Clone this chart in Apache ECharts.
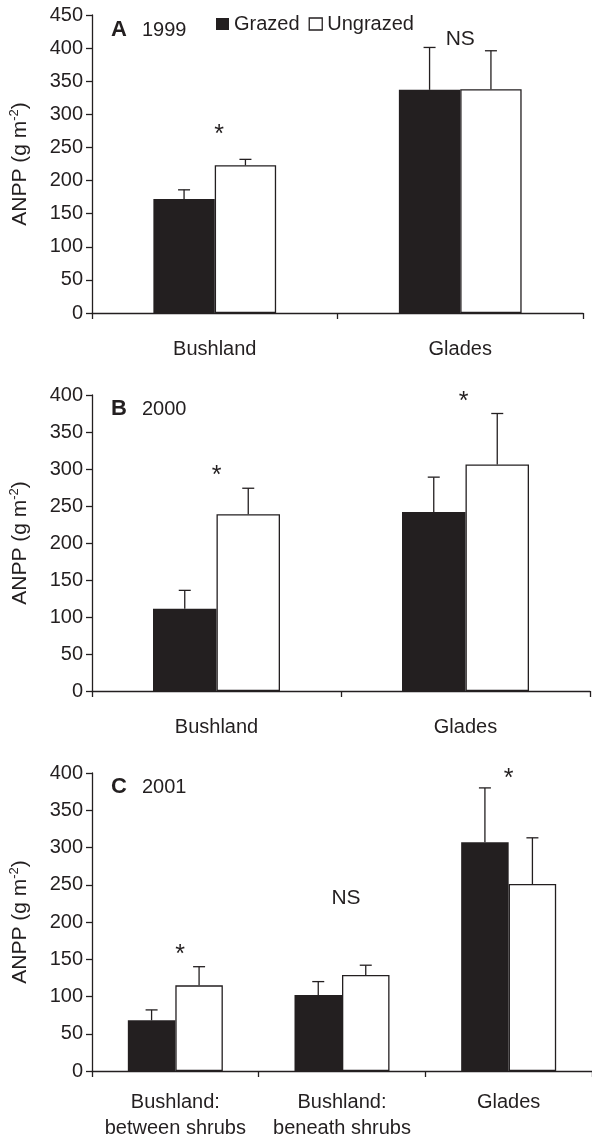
<!DOCTYPE html>
<html>
<head>
<meta charset="utf-8">
<script src="https://cdn.jsdelivr.net/npm/echarts@6/dist/echarts.min.js"></script>
<style>
html,body{margin:0;padding:0;background:#fff;}
#chart{width:592px;height:1142px;}
</style>
</head>
<body>
<div id="chart"></div>
<script>
// ---------- DATA ----------
const seriesNames = ['Grazed', 'Ungrazed'];

const catsA = ['Bushland', 'Glades'];
const grazedA = [172, 337];
const grazedSeA = [14, 64];
const ungrazedA = [223, 338];
const ungrazedSeA = [9, 58];
const notesA = ['*', 'NS'];
const notesCatA = [0, 1];
const notesValA = [269, 413];

const catsB = ['Bushland', 'Glades'];
const grazedB = [111, 242];
const grazedSeB = [25, 47];
const ungrazedB = [239, 306];
const ungrazedSeB = [35, 69];
const notesB = ['*', '*'];
const notesCatB = [0, 1];
const notesValB = [290, 390];

const catsC = ['Bushland:\nbetween shrubs', 'Bushland:\nbeneath shrubs', 'Glades'];
const grazedC = [68, 102, 307];
const grazedSeC = [14, 18, 73];
const ungrazedC = [115, 129, 251];
const ungrazedSeC = [25, 13, 62];
const notesC = ['*', 'NS', '*'];
const notesCatC = [0, 1, 2];
const notesValC = [156, 232, 392];

const yMaxA = 450, yMaxB = 400, yMaxC = 400, yStep = 50;
const panelLabels = ['A', 'B', 'C'];
const panelYears = ['1999', '2000', '2001'];

// ---------- STYLE ----------
const INK = '#231f20';
const FONT = '"Liberation Sans", Arial, Helvetica, sans-serif';

const chart = echarts.init(document.getElementById('chart'), null, {renderer: 'canvas'});

const grids = [
  {left: 90, top: 15, width: 493, height: 298},
  {left: 90, top: 395, width: 500, height: 296},
  {left: 91, top: 773, width: 504, height: 298}
];
const gaps = [0.50, 0.49, 0.43];
const labelMargins = [23, 23, 18];
const noteShift = [[0.018, 0.0], [0, -0.008], [0.028, 0.024, 0]];
const noteSize = {'*': 25, 'NS': 21};

function xAxis(i, cats) {
  return {
    type: 'category', gridIndex: i, data: cats,
    axisLine: {lineStyle: {color: INK, width: 1.3}},
    axisTick: {show: true, length: 6, lineStyle: {color: INK, width: 1.3}},
    axisLabel: {color: INK, fontFamily: FONT, fontSize: 20, lineHeight: 26, margin: labelMargins[i], interval: 0},
    splitLine: {show: false}
  };
}
function yAxis(i, max) {
  return {
    type: 'value', gridIndex: i, min: 0, max: max, interval: yStep,
    name: '{a|ANPP (g m}{s|-2}{a|)}',
    nameLocation: 'middle', nameRotate: 90, nameGap: 60,
    nameTextStyle: {
      color: INK,
      rich: {
        a: {fontFamily: FONT, fontSize: 21, color: INK, lineHeight: 24},
        s: {fontFamily: FONT, fontSize: 13, color: INK, lineHeight: 24, verticalAlign: 'top', padding: [0, 0, 8, 0]}
      }
    },
    axisLine: {show: true, lineStyle: {color: INK, width: 1.3}},
    axisTick: {show: true, length: 6, lineStyle: {color: INK, width: 1.3}},
    axisLabel: {color: INK, fontFamily: FONT, fontSize: 20, margin: 9},
    splitLine: {show: false}
  };
}

function barSeries(i, name, vals) {
  const grazed = name === 'Grazed';
  return {
    type: 'bar', name: name, xAxisIndex: i, yAxisIndex: i, data: vals,
    barGap: '0%', barCategoryGap: (gaps[i] * 100) + '%',
    itemStyle: grazed ? {color: INK} : {color: '#ffffff', borderColor: INK, borderWidth: 1.3},
    emphasis: {disabled: true},
    z: 2
  };
}

function errSeries(i, vals, ses, side) {
  const data = vals.map((v, k) => [k, v, ses[k]]);
  return {
    type: 'custom', xAxisIndex: i, yAxisIndex: i, data: data, z: 5, silent: true,
    renderItem: function (params, api) {
      const c = api.value(0), v = api.value(1), se = api.value(2);
      const band = api.size([1, 0])[0];
      const bw = band * (1 - gaps[i]) / 2;
      const p0 = api.coord([c, v]);
      const p1 = api.coord([c, v + se]);
      const x = p0[0] + side * bw / 2;
      const st = {stroke: INK, lineWidth: 1.3};
      return {type: 'group', children: [
        {type: 'line', shape: {x1: x, y1: p0[1], x2: x, y2: p1[1]}, style: st},
        {type: 'line', shape: {x1: x - 6, y1: p1[1], x2: x + 6, y2: p1[1]}, style: st}
      ]};
    }
  };
}

function noteSeries(i, texts, cats, vals) {
  const data = vals.map((v, k) => [cats[k], v]);
  return {
    type: 'custom', xAxisIndex: i, yAxisIndex: i, data: data, z: 6, silent: true,
    renderItem: function (params, api) {
      const c = api.value(0), v = api.value(1);
      const band = api.size([1, 0])[0];
      const p = api.coord([c, v]);
      const t = texts[params.dataIndex];
      return {
        type: 'text',
        x: p[0] + noteShift[i][params.dataIndex] * band,
        y: p[1],
        style: {text: t, fill: INK, fontFamily: FONT, fontSize: noteSize[t] || 20, align: 'center', verticalAlign: 'middle'}
      };
    }
  };
}

const titleTops = [13, 392, 770];
const titles = panelLabels.map((l, i) => ({
  text: '{b|' + l + '}{n|' + panelYears[i] + '}',
  left: 106, top: titleTops[i],
  textStyle: {
    fontWeight: 'normal',
    rich: {
      b: {fontFamily: FONT, fontSize: 22, fontWeight: 'bold', color: INK, lineHeight: 24, padding: [0, 15, 0, 0]},
      n: {fontFamily: FONT, fontSize: 20, fontWeight: 'normal', color: INK, lineHeight: 24}
    }
  }
}));

const option = {
  animation: false,
  backgroundColor: '#ffffff',
  title: titles,
  legend: {
    left: 211, top: 9,
    itemWidth: 13, itemHeight: 12, itemGap: 9,
    icon: 'rect',
    selectedMode: false,
    textStyle: {fontFamily: FONT, fontSize: 20, color: INK},
    data: [
      {name: seriesNames[0], itemStyle: {color: INK}},
      {name: seriesNames[1], itemStyle: {color: '#ffffff', borderColor: INK, borderWidth: 1.3}}
    ]
  },
  grid: grids,
  xAxis: [xAxis(0, catsA), xAxis(1, catsB), xAxis(2, catsC)],
  yAxis: [yAxis(0, yMaxA), yAxis(1, yMaxB), yAxis(2, yMaxC)],
  series: [
    barSeries(0, seriesNames[0], grazedA), barSeries(0, seriesNames[1], ungrazedA),
    barSeries(1, seriesNames[0], grazedB), barSeries(1, seriesNames[1], ungrazedB),
    barSeries(2, seriesNames[0], grazedC), barSeries(2, seriesNames[1], ungrazedC),
    errSeries(0, grazedA, grazedSeA, -1), errSeries(0, ungrazedA, ungrazedSeA, 1),
    errSeries(1, grazedB, grazedSeB, -1), errSeries(1, ungrazedB, ungrazedSeB, 1),
    errSeries(2, grazedC, grazedSeC, -1), errSeries(2, ungrazedC, ungrazedSeC, 1),
    noteSeries(0, notesA, notesCatA, notesValA),
    noteSeries(1, notesB, notesCatB, notesValB),
    noteSeries(2, notesC, notesCatC, notesValC)
  ]
};
chart.setOption(option);
</script>
</body>
</html>
